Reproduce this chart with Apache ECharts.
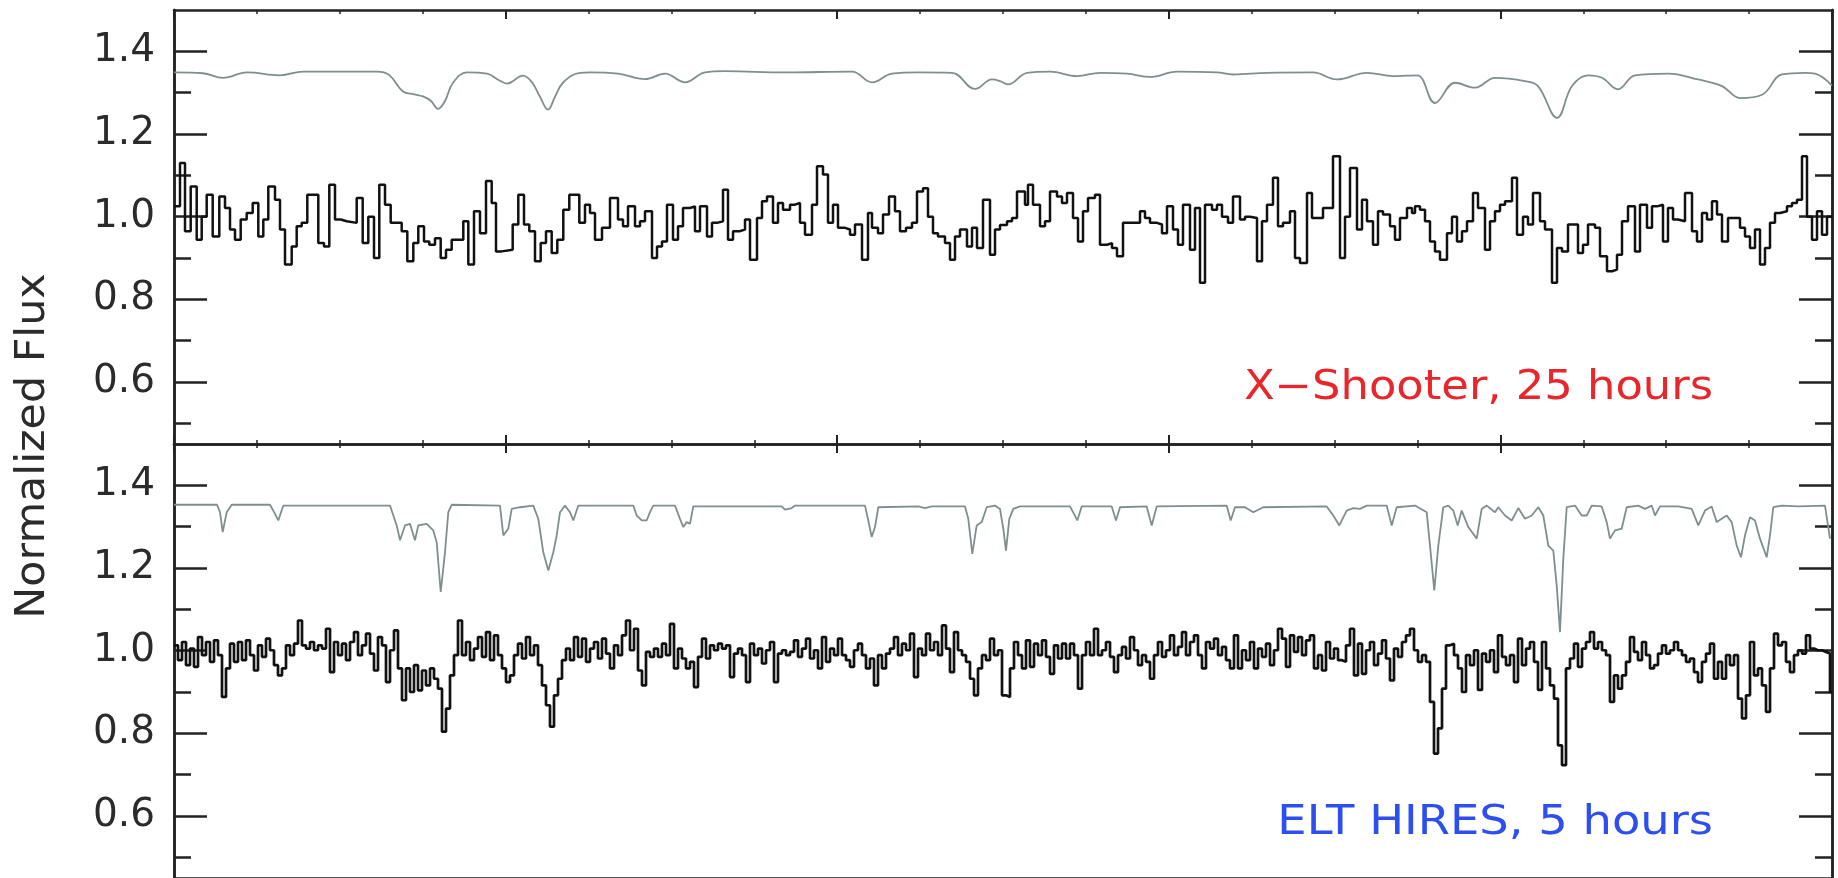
<!DOCTYPE html>
<html>
<head>
<meta charset="utf-8">
<title>Normalized Flux - X-Shooter vs ELT HIRES</title>
<script src="https://cdn.jsdelivr.net/npm/echarts@6/dist/echarts.min.js"></script>
<style>
  html, body { margin: 0; padding: 0; background: #fff; }
  #chart { width: 1838px; height: 878px; }
</style>
</head>
<body>
<div id="chart"></div>
<script>
// wavelength axis in arbitrary units (no labels shown in the figure)
const X_END = 1658;

// y ticks
const majorTicks = [0.6, 0.8, 1.0, 1.2, 1.4];
const minorTicks = [0.5, 0.7, 0.9, 1.1, 1.3];

// X-Shooter binned spectrum: left edge of each bin and its flux
const xshooterEdges = [
  0, 6, 11, 16.7, 22.7, 27.7, 32.7, 38.7, 45.3, 51, 56, 61, 66.7, 72.7, 78.7, 84.3, 89.3, 94.3, 101, 106,
  111, 117.7, 122.7, 127.7, 133.3, 144.3, 150, 155.3, 161, 166.7, 172.7, 182.7, 188.7, 194.3, 200, 205.3, 211, 216.7, 227.7, 233.3,
  239.3, 244.3, 250, 255.3, 261, 266.7, 272, 277.7, 289.3, 294.3, 300, 306, 312, 317.7, 322, 327.7, 338.7, 344.3, 350, 355.3,
  361, 366.7, 372, 377.7, 383.3, 389.3, 395.3, 405.3, 411,
  416, 421, 428, 436, 444, 449, 454, 461, 466, 471, 478, 483, 488, 493, 499, 504, 509, 516, 521, 526,
  533, 538, 543, 549, 554, 559, 566, 571, 576, 583, 588, 593, 599, 604, 609, 616, 621, 626, 631, 638,
  643, 649, 654, 659, 664, 671, 676, 681, 688, 694, 698, 704, 709, 715, 721, 726, 732, 738, 743, 749,
  754, 759, 764, 771, 776, 781, 786, 793, 798, 803, 809, 816, 821,
  826, 833, 838, 843, 851, 854, 859, 866, 871, 876, 883, 888, 893, 899, 904, 909, 914, 921, 926, 933,
  938, 943, 949, 966, 971, 976, 983, 988, 993, 999, 1004, 1009, 1016, 1021, 1026, 1031, 1038, 1043, 1048, 1054,
  1059, 1066, 1071, 1076, 1083, 1088, 1093, 1099, 1104, 1109, 1116, 1121, 1126, 1133, 1138, 1143, 1149, 1154, 1159, 1166,
  1171, 1176, 1183, 1188, 1193, 1199, 1204, 1209, 1216, 1221, 1226, 1233, 1238,
  1241, 1246, 1251, 1256, 1261, 1266, 1273, 1278, 1283, 1288, 1293, 1299, 1304, 1311, 1316, 1321, 1326, 1331, 1338, 1343,
  1349, 1354, 1359, 1366, 1371, 1378, 1383, 1388, 1394, 1399, 1404, 1409, 1414, 1421, 1426, 1433, 1438, 1443, 1448, 1454,
  1461, 1466, 1473, 1478, 1483, 1489, 1494, 1499, 1504, 1511, 1518, 1523, 1528, 1533, 1538, 1543, 1548, 1554, 1561, 1566,
  1571, 1576, 1581, 1586, 1591, 1596, 1601, 1606, 1613, 1618, 1623, 1628, 1633, 1638, 1643, 1648, 1653
];
const xshooterFlux = [
  1.025, 1.13, 0.965, 1.073, 0.944, 1.0, 1.053, 0.952, 1.049, 1.021, 0.969, 0.944, 0.993, 1.009, 1.033, 0.952, 0.993, 1.073, 1.041, 0.969,
  0.884, 0.928, 0.977, 0.985, 1.053, 0.936, 0.928, 1.077, 0.993, 0.989, 0.985, 1.045, 0.936, 1.0, 0.9, 1.077, 1.029, 0.985, 0.965, 0.892,
  0.936, 0.977, 0.94, 0.932, 0.948, 0.9, 0.92, 0.944, 0.989, 0.884, 1.013, 0.96, 1.086, 1.033, 0.916, 0.92, 0.981, 1.053, 0.981, 0.965,
  0.892, 0.936, 0.965, 0.912, 0.944, 1.017, 1.053, 0.985, 1.029,
  1.009, 0.944, 0.973, 1.045, 0.993, 0.977, 1.025, 0.977, 0.989, 1.013, 0.9, 0.928, 0.94, 1.029, 0.944, 0.977, 1.021, 1.025, 0.965, 1.025,
  0.952, 0.985, 0.989, 1.065, 0.944, 0.965, 0.969, 0.993, 0.896, 0.997, 1.037, 1.049, 0.985, 1.033, 1.017, 1.029, 1.033, 0.985, 0.956, 1.029,
  1.122, 1.102, 0.985, 1.029, 0.973, 0.969, 0.956, 0.981, 0.896, 1.009, 0.973, 0.96, 1.005, 1.049, 1.013, 0.965, 0.973, 0.985, 1.061, 1.069,
  1.0, 0.96, 0.952, 0.936, 0.896, 0.952, 0.969, 0.928, 0.973, 0.924, 1.041, 0.908, 0.969,
  0.98, 0.989, 0.997, 1.061, 1.029, 1.077, 1.029, 0.977, 0.989, 1.061, 1.049, 1.033, 1.057, 0.997, 0.94, 1.013, 1.045, 1.053, 0.932, 0.936,
  0.924, 0.904, 0.985, 1.013, 0.997, 0.985, 0.981, 0.96, 1.025, 0.969, 0.932, 1.029, 0.92, 1.021, 0.84, 1.029, 1.017, 1.029, 1.0, 0.985,
  1.049, 0.993, 1.0, 0.997, 0.892, 0.989, 1.029, 1.094, 0.977, 0.985, 1.013, 0.9, 0.888, 1.057, 0.997, 0.997, 1.021, 1.021, 1.146, 0.9,
  1.0, 1.118, 0.969, 1.041, 0.989, 0.932, 1.013, 1.005, 0.977, 0.944, 0.997, 1.021, 1.009,
  1.025, 1.017, 0.989, 0.94, 0.916, 0.896, 0.96, 1.0, 0.94, 0.965, 0.989, 1.057, 1.021, 0.92, 0.989, 1.013, 1.029, 1.037, 1.094, 0.956,
  1.0, 0.981, 1.057, 0.989, 0.969, 0.84, 0.924, 0.916, 0.981, 0.981, 0.912, 0.932, 0.981, 0.973, 0.904, 0.868, 0.872, 0.908, 0.989, 1.025,
  0.916, 1.029, 0.973, 1.025, 1.029, 0.94, 1.021, 0.993, 0.989, 1.057, 0.965, 0.94, 1.009, 0.993, 1.037, 1.005, 0.94, 0.997, 0.997, 0.973,
  0.952, 0.924, 0.969, 0.884, 0.924, 0.985, 1.009, 1.013, 1.025, 1.033, 1.041, 1.146, 1.0, 0.944, 1.013, 0.956, 1.0
];

// X-Shooter resolution model (grey, offset to 1.35)
const xshooterModel = [
  [0, 1.349], [29, 1.347], [49, 1.336], [73, 1.349], [106, 1.342], [129, 1.351], [203, 1.351], [215, 1.343], [229, 1.303], [240, 1.296],
  [249, 1.291], [257, 1.28], [264, 1.261], [271, 1.28], [279, 1.324], [293, 1.349], [313, 1.346], [325, 1.33], [333, 1.322], [349, 1.341],
  [358, 1.325], [366, 1.29], [374, 1.259], [381, 1.29], [389, 1.324], [406, 1.348], [416, 1.349], [444, 1.346], [471, 1.333], [491, 1.346],
  [511, 1.325], [531, 1.349], [551, 1.352], [611, 1.349], [678, 1.351], [698, 1.325], [718, 1.346], [744, 1.349], [778, 1.348], [801, 1.309],
  [818, 1.332], [826, 1.328], [834, 1.32], [853, 1.348], [876, 1.351], [903, 1.34], [926, 1.348], [953, 1.346], [976, 1.338], [1003, 1.351],
  [1043, 1.349], [1059, 1.344], [1093, 1.348], [1139, 1.349], [1163, 1.332], [1193, 1.348], [1219, 1.34], [1243, 1.342], [1261, 1.275], [1281, 1.324],
  [1301, 1.312], [1321, 1.336], [1351, 1.328], [1364, 1.316], [1383, 1.239], [1398, 1.316], [1414, 1.342], [1428, 1.336], [1444, 1.308], [1461, 1.342],
  [1494, 1.346], [1524, 1.332], [1548, 1.316], [1566, 1.287], [1588, 1.295], [1608, 1.344], [1631, 1.348], [1641, 1.346], [1658, 1.317]
];

// ELT HIRES spectrum, one value every hiresStep units from 0
const hiresStep = 4;
const hiresFlux = [
  1.013, 0.977, 1.021, 0.965, 1.005, 0.961, 1.033, 0.989, 1.021, 0.973, 1.025, 0.989, 0.888, 0.957,
  1.017, 0.973, 1.021, 0.977, 1.025, 0.989, 0.952, 1.013, 0.985, 1.029, 1.001, 0.965, 0.94, 0.957, 1.013, 0.989, 1.017, 1.073, 1.013, 1.005,
  1.021, 1.001, 1.013, 1.005,
  1.053, 0.948, 1.021, 0.989, 1.017, 0.977, 1.021, 1.045, 0.989, 1.013, 1.041, 0.993, 0.952, 1.033, 1.013, 0.924, 1.001, 1.049, 0.957, 0.88,
  0.957, 0.9, 0.965, 0.904, 0.952, 0.916, 0.957, 0.932, 0.908, 0.804, 0.86, 0.94, 0.989, 1.073, 0.989, 1.021, 0.977, 1.005, 1.033, 0.985,
  1.045, 0.977, 1.037, 0.989, 0.957, 0.924, 0.94, 0.989, 1.017, 0.981, 1.033, 0.989, 1.013, 0.965, 0.916, 0.868, 0.816, 0.892, 0.932, 0.977,
  1.005, 0.977, 1.033, 0.985, 1.029, 0.973, 1.005,
  1.021, 0.981, 1.029, 0.993, 0.957, 1.013, 0.989, 1.037, 1.073, 1.001, 1.053, 0.952, 0.916, 0.997, 0.985, 1.005, 0.985, 1.017, 0.989, 1.065,
  0.957, 1.005, 0.981, 0.957, 0.973, 0.912, 0.985, 1.029, 0.981, 1.013, 1.001, 1.017, 1.005, 1.013, 0.936, 0.993, 1.005, 0.989, 0.924, 1.017,
  0.989, 1.005, 0.969, 1.001, 1.021, 0.924, 0.993, 1.001, 0.989, 0.997, 1.025, 0.985, 1.005, 1.029, 0.981, 1.001, 0.957, 1.033, 0.973, 1.005,
  0.989, 1.029, 0.989, 0.977, 0.961, 1.001, 1.017, 0.989, 0.957, 0.981, 0.916, 0.989, 0.957, 0.993, 1.005, 1.033, 0.989, 1.017, 1.001, 1.041,
  0.936, 1.005, 0.989, 1.041, 1.001, 1.021, 0.989, 1.061, 1.005, 0.948, 1.045, 1.001, 0.989, 0.973, 0.932, 0.892, 0.957, 0.989, 0.977, 1.029,
  0.989, 1.001, 0.892,
  0.888, 0.957, 1.021, 0.989, 0.957, 1.025, 0.961, 1.017, 0.989, 1.025, 0.985, 0.944, 1.013, 0.981, 1.017, 0.981, 1.017, 0.989, 0.908, 0.989,
  1.021, 0.989, 1.053, 0.989, 1.001, 1.021, 0.985, 0.948, 0.989, 1.009, 0.981, 1.033, 1.001, 0.965, 0.989, 0.973, 0.932, 0.989, 1.021, 0.985,
  1.001, 1.037, 0.989, 1.009, 1.045, 0.989, 1.021, 1.037, 0.989, 0.957, 1.021, 1.005, 1.029, 0.989, 1.009, 0.977, 0.957, 1.037, 0.957, 1.001,
  0.977, 1.021, 0.957, 1.005, 0.985, 1.017, 0.965, 1.001, 1.053, 1.029, 0.961, 1.037, 0.997, 1.033, 0.989, 1.025, 1.037, 0.957, 0.989, 0.952,
  1.021, 0.981, 1.005, 0.977, 0.973, 1.013, 1.053, 0.94, 1.017, 0.944, 1.001, 1.021, 0.965, 0.993, 1.025, 0.981, 0.928, 1.005, 0.985, 1.021,
  1.037, 1.053, 1.001, 0.973,
  0.989, 0.973, 0.876, 0.751, 0.812, 0.908, 1.013, 1.017, 0.989, 0.957, 0.9, 0.989, 0.965, 1.001, 0.905, 0.993, 0.973, 1.001, 0.948, 1.037,
  0.985, 0.965, 0.989, 0.924, 1.029, 0.965, 1.005, 1.021, 0.973, 0.905, 1.021, 0.957, 0.916, 0.884, 0.771, 0.723, 0.957, 0.981, 1.017, 0.961,
  1.005, 1.021, 1.045, 1.005, 1.021, 1.001, 0.989, 0.876, 0.94, 0.908, 0.94, 0.973, 1.033, 0.997, 0.977, 1.021, 0.989, 0.957, 0.965, 0.993,
  1.013, 0.993, 1.001, 1.021, 1.001, 0.989, 0.973, 0.981, 0.948, 0.924, 0.973, 0.993, 1.017, 0.932, 0.973, 0.932, 0.989, 0.965, 0.989, 0.884,
  0.836, 0.892, 1.021, 0.94, 0.957, 0.916, 0.852, 0.957, 1.041, 1.013, 1.021, 0.973, 0.948, 0.989, 1.001, 0.993, 1.037, 1.005, 1.001, 1.001,
  0.997, 0.993, 0.9
];

// ELT HIRES resolution model (grey, offset to 1.35)
const hiresModel = [
  [0, 1.353], [43, 1.353], [46, 1.335], [48.7, 1.287], [52.7, 1.335], [57.7, 1.353], [96, 1.353], [101, 1.331], [104.3, 1.315], [109.3, 1.351],
  [216, 1.351], [222.7, 1.303], [226, 1.267], [231, 1.303], [236, 1.307], [241, 1.267], [244.3, 1.303], [252.7, 1.307], [259.3, 1.291], [262.7, 1.262],
  [266.7, 1.142], [271, 1.238], [274.3, 1.335], [277.7, 1.353], [326, 1.351], [329.3, 1.279], [334.3, 1.295], [337.7, 1.343], [346, 1.347], [359.3, 1.351],
  [364.3, 1.319], [369.3, 1.238], [374.3, 1.194], [379.3, 1.238], [382.7, 1.279], [386, 1.335], [391, 1.351], [396, 1.335], [399.3, 1.315], [404.3, 1.351],
  [459.3, 1.351], [462.7, 1.327], [467.7, 1.315], [472.7, 1.315], [476, 1.335], [479.3, 1.351], [501, 1.351], [506, 1.319], [509.3, 1.299], [512.7, 1.311],
  [516, 1.307], [519.3, 1.349], [607.7, 1.349], [611, 1.341], [617.7, 1.345], [621, 1.351], [691, 1.351], [694.3, 1.315], [697.7, 1.275], [701, 1.299],
  [704.3, 1.347], [744.3, 1.349], [751, 1.345], [757.7, 1.349], [791, 1.349], [794.3, 1.319], [798.3, 1.234], [802.7, 1.303], [807.7, 1.311], [812.7, 1.347],
  [821, 1.351], [826, 1.343], [829.3, 1.295], [832, 1.242], [835.3, 1.319], [839.3, 1.343], [846, 1.349], [896, 1.349], [900, 1.331], [903.3, 1.315],
  [907.7, 1.349], [937.7, 1.349], [942, 1.315], [946, 1.347], [972.7, 1.349], [977.7, 1.303], [982.7, 1.349], [1052.7, 1.351], [1056.7, 1.315], [1061, 1.347],
  [1071, 1.347], [1079.3, 1.335], [1089.3, 1.347], [1152.7, 1.349], [1159.3, 1.327], [1165.3, 1.303], [1172.7, 1.339], [1179.3, 1.345], [1186, 1.343], [1192.7, 1.351],
  [1212.7, 1.351], [1217.7, 1.303], [1222.7, 1.347], [1241, 1.351], [1252.7, 1.335], [1256, 1.254], [1260.3, 1.146], [1264.3, 1.254], [1269.3, 1.347], [1274.3, 1.351],
  [1279.3, 1.339], [1283.7, 1.303], [1287.7, 1.339], [1294.3, 1.299], [1302.7, 1.271], [1307.7, 1.343], [1312.7, 1.351], [1321, 1.335], [1324.3, 1.347], [1331, 1.327],
  [1337.7, 1.315], [1344.3, 1.345], [1351, 1.319], [1357.7, 1.327], [1364.3, 1.347], [1369.3, 1.327], [1374.3, 1.254], [1379.3, 1.242], [1382.7, 1.158], [1386, 1.045],
  [1389.3, 1.222], [1392.7, 1.347], [1401, 1.351], [1407.7, 1.327], [1412.7, 1.327], [1417.7, 1.351], [1427.7, 1.349], [1432.7, 1.311], [1436, 1.271], [1441, 1.291],
  [1447.7, 1.295], [1452.7, 1.347], [1464.3, 1.351], [1471, 1.343], [1477.7, 1.351], [1481, 1.327], [1486, 1.349], [1504.3, 1.349], [1517.7, 1.343], [1524.3, 1.303],
  [1531, 1.339], [1537.7, 1.349], [1542.7, 1.311], [1547.7, 1.319], [1552.7, 1.327], [1557.7, 1.311], [1562.7, 1.254], [1567, 1.226], [1571, 1.279], [1576, 1.323],
  [1581, 1.315], [1586, 1.271], [1592.7, 1.226], [1596, 1.279], [1599.3, 1.347], [1607.7, 1.351], [1624.3, 1.349], [1651, 1.351], [1656, 1.271]
];

const AXIS = '#222';
const GREY = '#7f8e8e';
const INK = '#111';
const FONT = '"DejaVu Sans", "Liberation Sans", sans-serif';

const chart = echarts.init(document.getElementById('chart'), null, { renderer: 'canvas' });

// histogram points: value holds from its left edge to the next edge
const n = Math.min(xshooterEdges.length, xshooterFlux.length);
const xshooterSteps = xshooterEdges.slice(0, n).map((x, i) => [x, xshooterFlux[i]]);
xshooterSteps.push([X_END, xshooterFlux[n - 1]]);

const hiresSteps = hiresFlux.map((v, i) => [i * hiresStep, v]);
hiresSteps.push([X_END, hiresFlux[hiresFlux.length - 1]]);

function xAx(gridIndex, position, ticks) {
    return {
        type: 'value', gridIndex, position,
        min: 0, max: X_END, interval: X_END / 5,
        axisLine: { show: true, onZero: false, lineStyle: { color: AXIS, width: 2.5 } },
        axisTick: { show: ticks, inside: true, length: 9, lineStyle: { color: AXIS, width: 2 } },
        minorTick: { show: ticks, splitNumber: 4, length: 4, lineStyle: { color: AXIS, width: 1.5 } },
        axisLabel: { show: false },
        splitLine: { show: false },
        minorSplitLine: { show: false }
    };
}

function yAx(gridIndex, position, ticks, len, withLabels) {
    return {
        type: 'value', gridIndex, position,
        min: 0.45, max: 1.5,
        axisLine: { show: true, onZero: false, lineStyle: { color: AXIS, width: 2.5 } },
        axisTick: { show: true, inside: true, length: len, customValues: ticks, lineStyle: { color: AXIS, width: 2.5 } },
        axisLabel: withLabels ? {
            show: true, customValues: ticks, margin: 19,
            formatter: v => v.toFixed(1),
            fontSize: 39, fontFamily: FONT, color: '#2b2b2b'
        } : { show: false },
        splitLine: { show: false }
    };
}

const option = {
    animation: false,
    backgroundColor: '#fff',
    grid: [
        { left: 174, right: 6, top: 10, height: 434 },
        { left: 174, right: 6, top: 444, height: 436 }
    ],
    xAxis: [
        xAx(0, 'bottom', true), xAx(0, 'top', true),
        xAx(1, 'top', true), xAx(1, 'bottom', false)   // last one sits just below the picture
    ],
    yAxis: [
        yAx(0, 'left', majorTicks, 33, true), yAx(0, 'left', minorTicks, 17, false),
        yAx(0, 'right', majorTicks, 33, false), yAx(0, 'right', minorTicks, 17, false),
        yAx(1, 'left', majorTicks, 33, true), yAx(1, 'left', minorTicks, 17, false),
        yAx(1, 'right', majorTicks, 33, false), yAx(1, 'right', minorTicks, 17, false)
    ],
    series: [
        {
            name: 'X-Shooter model', type: 'line', xAxisIndex: 0, yAxisIndex: 0,
            data: xshooterModel, smooth: 0.4, showSymbol: false, silent: true,
            lineStyle: { color: GREY, width: 1.8 }
        },
        {
            name: 'X-Shooter, 25 hours', type: 'line', xAxisIndex: 0, yAxisIndex: 0,
            data: xshooterSteps, step: 'end', showSymbol: false, silent: true,
            lineStyle: { color: INK, width: 2.5 }
        },
        {
            name: 'ELT HIRES model', type: 'line', xAxisIndex: 2, yAxisIndex: 4,
            data: hiresModel, showSymbol: false, silent: true,
            lineStyle: { color: GREY, width: 1.8 }
        },
        {
            name: 'ELT HIRES, 5 hours', type: 'line', xAxisIndex: 2, yAxisIndex: 4,
            data: hiresSteps, step: 'end', showSymbol: false, silent: true,
            lineStyle: { color: INK, width: 2.7 }
        }
    ],
    graphic: [
        {
            type: 'text', x: 34, y: 446, rotation: Math.PI / 2, scaleX: 1.07,
            style: { text: 'Normalized Flux', font: '40px ' + FONT, fill: '#2b2b2b', align: 'center', verticalAlign: 'middle' }
        },
        {
            type: 'text', x: 1713, y: 389, scaleX: 1.12,
            style: { text: 'X\u2212Shooter, 25 hours', font: '40px ' + FONT, fill: '#e8272c', align: 'right', verticalAlign: 'middle' }
        },
        {
            type: 'text', x: 1713, y: 824, scaleX: 1.16,
            style: { text: 'ELT HIRES, 5 hours', font: '40px ' + FONT, fill: '#2d4ff0', align: 'right', verticalAlign: 'middle' }
        }
    ]
};

chart.setOption(option);
window.addEventListener('resize', () => chart.resize());
</script>
</body>
</html>
